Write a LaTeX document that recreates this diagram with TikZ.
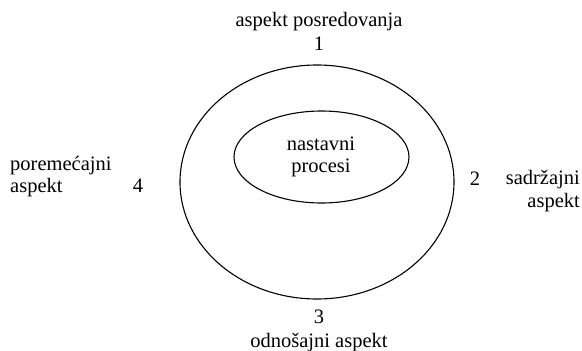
\documentclass[tikz,border=0pt]{standalone}
\usepackage{fontspec}
\setmainfont{Liberation Serif}
\usetikzlibrary{shapes.geometric}
\begin{document}
\begin{tikzpicture}[x=1pt,y=-1pt,
  lbl/.style={inner sep=0pt,font=\fontsize{20.5}{22.5}\selectfont},
  ring/.style={draw,line width=1.1pt}]
\useasboundingbox (0,0) rectangle (582,351);
\node[ring,ellipse,minimum width=274pt,minimum height=234pt,inner sep=0pt] (outer) at (317,182) {};
\node[ring,ellipse,minimum width=175pt,minimum height=92pt,inner sep=0pt] (inner) at (321.5,157) {};
\node[lbl,align=center,anchor=base] (core) at (321,172.5) {nastavni\\procesi};
\node[lbl,anchor=base] (t1) at (319,26) {aspekt posredovanja};
\node[lbl,anchor=base] (n1) at (319,50) {1};
\node[lbl,anchor=base] (n3) at (319,323) {3};
\node[lbl,anchor=base] (t3) at (319,347) {odnošajni aspekt};
\node[lbl,anchor=base] (n2) at (475,185) {2};
\node[lbl,align=right,anchor=base east] (t2) at (580,207) {sadržajni\\aspekt};
\node[lbl,anchor=base] (n4) at (138,192) {4};
\node[lbl,align=left,anchor=base west] (t4) at (10,192.5) {poremećajni\\aspekt};
\end{tikzpicture}
\end{document}
